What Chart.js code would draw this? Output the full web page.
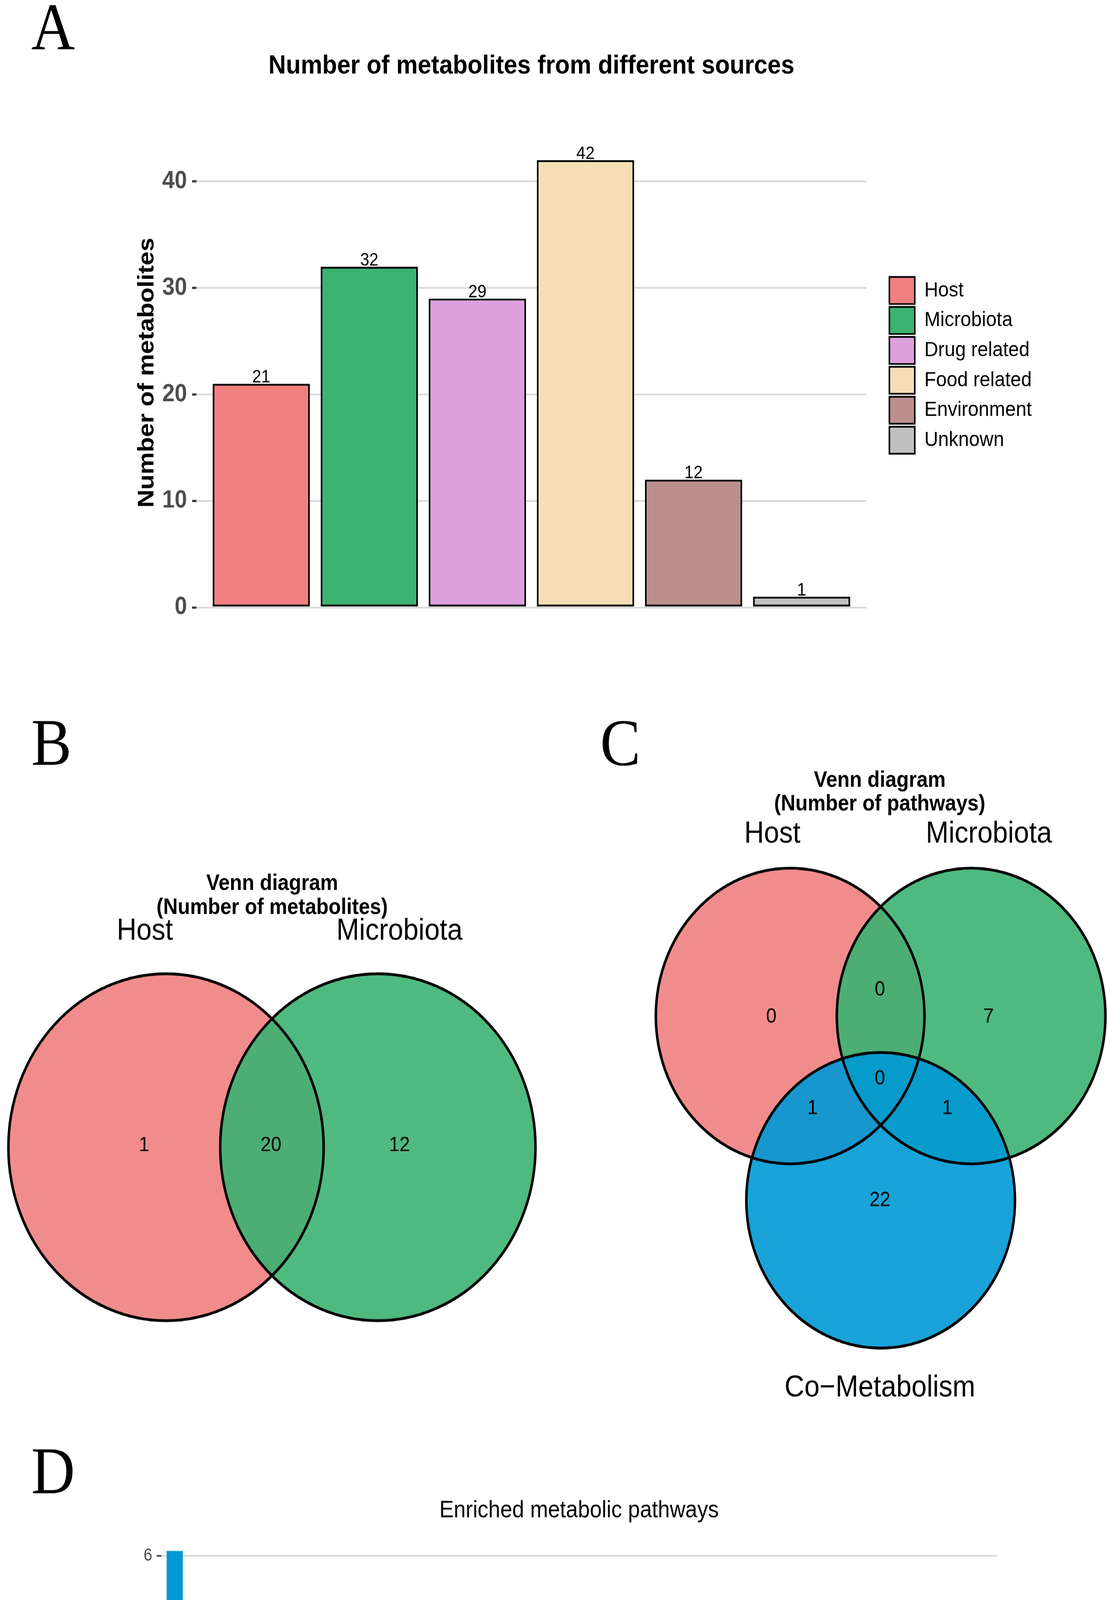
<!DOCTYPE html>
<html>
<head>
<meta charset="utf-8">
<script src="https://cdn.jsdelivr.net/npm/chart.js@4.4.1/dist/chart.umd.min.js"></script>
<style>
html, body { margin: 0; padding: 0; background: #fff; overflow: hidden; }
#page { position: relative; width: 2835px; height: 5474px; transform: scale(1, 1.1); transform-origin: 0 0; }
#page canvas { position: absolute; }
</style>
</head>
<body>
<div id="page">
<canvas id="panelA" width="2835" height="1701" style="left:0;top:0"></canvas>
<canvas id="panelB" width="1418" height="1678" style="left:0;top:1640px"></canvas>
<canvas id="panelC" width="1417" height="1678" style="left:1418px;top:1640px"></canvas>
<canvas id="panelD" width="2835" height="2156" style="left:0;top:3318px"></canvas>
</div>
<script>
// ---- data ----
const sources = ['Host', 'Microbiota', 'Drug related', 'Food related', 'Environment', 'Unknown'];
const sourceCounts = [21, 32, 29, 42, 12, 1];
const sourceColors = ['#F08080', '#3CB371', '#DDA0DD', '#F5DEB3', '#BC8F8F', '#C0C0C0'];
const countTicks = [0, 10, 20, 30, 40];

const vennBSets = ['Host', 'Microbiota'];
const vennBRegions = ['Host only', 'Host & Microbiota', 'Microbiota only'];
const vennBCounts = [1, 20, 12];

const vennCSets = ['Host', 'Microbiota', 'Co\u2212Metabolism'];
const vennCRegions = ['Host only', 'Host & Microbiota', 'Microbiota only', 'All three',
    'Host & Co-Metabolism', 'Microbiota & Co-Metabolism', 'Co-Metabolism only'];
const vennCCounts = [0, 0, 7, 0, 1, 1, 22];

const pathways = [
    'Biosynthesis of unsaturated fatty acids',
    'Linoleic acid metabolism',
    'Glycerophospholipid metabolism',
    'alpha\u2212Linolenic acid metabolism',
    'Valine, leucine and isoleucine biosynthesis',
    'Glycerolipid metabolism',
    'Arachidonic acid metabolism',
    'Biosynthesis of siderophore group nonribosomal peptides',
    'Aminoacyl\u2212tRNA biosynthesis',
    'Primary bile acid biosynthesis',
    'Naphthalene degradation',
    'Histidine metabolism',
    'Dioxin degradation',
    'Polycyclic aromatic hydrocarbon degradation',
    'Fructose and mannose metabolism',
    'Lysine degradation',
    'Prodigiosin biosynthesis',
    'Arginine and proline metabolism',
    'Ether lipid metabolism',
    'beta\u2212Alanine metabolism',
    'Pantothenate and CoA biosynthesis',
    'Valine, leucine and isoleucine degradation',
    'Galactose metabolism',
    'Glycine, serine and threonine metabolism',
    'Tryptophan metabolism',
    'Fatty acid biosynthesis',
    'Teichoic acid biosynthesis',
    'Pyrimidine metabolism',
    'Methane metabolism',
    'Porphyrin metabolism',
    'Amino sugar and nucleotide sugar metabolism'
];
const hostP = [null, null, null, null, null, null, null, null, null, 1.17,
    null, null, null, null, null, null, null, null, null, null,
    null, null, null, null, null, null, null, null, null, null, null];
const microP = [null, null, null, null, null, null, null, 1.22, null, null,
    1.08, 1.02, 1.00, 0.96, 0.86, 0.86, null, 0.80, null, null,
    null, null, null, null, null, null, null, null, null, null, null];
const coP = [6.09, 3.76, 3.10, 1.92, 1.72, 1.54, 1.30, null, 1.19, 0.52,
    null, null, null, null, 0.475, null, 0.81, null, 0.76, 0.71,
    0.68, 0.56, 0.52, 0.51, 0.50, 0.475, 0.45, 0.435, 0.35, 0.28, 0.27];
const pValueTicks = [0, 2, 4, 6];

// ---- look ----
const sans = '"Liberation Sans", Arial, sans-serif';
const serif = '"Liberation Serif", "Times New Roman", serif';
const verdana = '"DejaVu Sans", Verdana, sans-serif';
Chart.defaults.font.family = sans;
Chart.defaults.color = '#000';

const base = {responsive: false, animation: false, devicePixelRatio: 1, events: []};

let tag = function(letter, x, y) {
    return {
        id: 'tag' + letter,
        afterDraw(chart) {
            let ctx = chart.ctx;
            ctx.save();
            ctx.font = '155px ' + serif;
            ctx.fillStyle = '#000';
            ctx.textAlign = 'left';
            ctx.textBaseline = 'alphabetic';
            ctx.fillText(letter, x, y);
            ctx.restore();
        }
    };
};

// numbers on top of the bars in A
const barValues = {
    id: 'barValues',
    afterDatasetsDraw(chart) {
        let ctx = chart.ctx;
        ctx.save();
        ctx.font = '42px ' + sans;
        ctx.fillStyle = '#000';
        ctx.textAlign = 'center';
        ctx.textBaseline = 'alphabetic';
        chart.getDatasetMeta(0).data.forEach((bar, i) => {
            ctx.fillText(String(sourceCounts[i]), bar.x, bar.y - 3);
        });
        ctx.restore();
    }
};

// ---- A ----
new Chart(document.getElementById('panelA'), {
    type: 'bar',
    data: {
        datasets: [{
            data: sourceCounts.map((v, i) => ({x: i, y: v})),
            backgroundColor: sourceColors,
            borderColor: '#000',
            borderWidth: 4.5,
            borderSkipped: false,
            barPercentage: 0.9,
            categoryPercentage: 1.0
        }]
    },
    options: Object.assign({}, base, {
        layout: {padding: {left: 0, top: 0, right: 184, bottom: 0.5}},
        scales: {
            x: {
                type: 'linear', min: -0.6, max: 5.6, offset: false,
                grid: {display: false}, border: {display: false}, ticks: {display: false},
                afterBuildTicks: s => { s.ticks = sources.map((c, i) => ({value: i})); },
                afterFit: s => { s.height = 286.9; }
            },
            y: {
                min: 0, max: 44.1,
                afterBuildTicks: s => { s.ticks = countTicks.map(v => ({value: v})); },
                grid: {color: '#D9D9D9', lineWidth: 4, tickLength: 11, tickWidth: 5, tickColor: '#333333'},
                border: {display: false},
                ticks: {padding: 13, color: '#4D4D4D', font: {size: 57, weight: 'bold'}},
                title: {display: true, text: 'Number of metabolites', color: '#000',
                    font: {size: 58, weight: 'bold'}, padding: {top: 341.8, bottom: 0}},
                afterFit: s => { s.width = 503; }
            },
            y2: {
                type: 'linear', position: 'right',
                grid: {display: false}, border: {display: false}, ticks: {display: false},
                afterFit: s => { s.width = 52; }
            }
        },
        plugins: {
            title: {display: true, text: 'Number of metabolites from different sources', fullSize: false,
                color: '#000', font: {size: 62, weight: 'bold'}, padding: {top: 117.1, bottom: 129.2}},
            legend: {
                position: 'right', maxWidth: 380,
                labels: {
                    boxWidth: 65, boxHeight: 63, padding: 6.7, color: '#000', font: {size: 49},
                    generateLabels: () => sources.map((s, i) => ({
                        text: s, fillStyle: sourceColors[i], strokeStyle: '#000', lineWidth: 4, hidden: false, index: i
                    }))
                }
            },
            tooltip: {enabled: false}
        }
    }),
    plugins: [barValues, tag('A', 80, 113.5)]
});

// ---- B and C (Venn) ----
let vennText = function(title, sets, counts, lay) {
    return {
        id: 'vennText',
        afterDatasetsDraw(chart) {
            let ctx = chart.ctx;
            let xs = chart.scales.x, ys = chart.scales.y;
            let px = p => [xs.getPixelForValue(p[0]), ys.getPixelForValue(p[1])];
            ctx.save();
            ctx.fillStyle = '#000';
            ctx.textAlign = 'center';
            ctx.textBaseline = 'alphabetic';
            ctx.font = 'bold 51.5px ' + sans;
            title.forEach((line, i) => {
                let p = px([lay.titleX, lay.titleY[i]]);
                ctx.fillText(line, p[0], p[1]);
            });
            ctx.font = '70px ' + sans;
            sets.forEach((s, i) => {
                let p = px(lay.setLabels[i]);
                ctx.fillText(s, p[0], p[1]);
            });
            ctx.font = '48px ' + sans;
            ctx.textBaseline = 'middle';
            counts.forEach((c, i) => {
                let p = px(lay.counts[i]);
                ctx.fillText(String(c), p[0], p[1]);
            });
            ctx.restore();
        }
    };
};

let make_venn = function(canvas_id, w, h, sets, colors, counts, title, lay, letter) {
    let fills = sets.map((s, i) => ({
        label: s,
        data: [{x: lay.centers[i][0], y: lay.centers[i][1], r: lay.r}],
        backgroundColor: colors[i],
        borderWidth: 0,
        order: sets.length - i,
        clip: false
    }));
    let outline = {
        label: 'outline',
        data: lay.centers.map(c => ({x: c[0], y: c[1], r: lay.r})),
        backgroundColor: 'rgba(0,0,0,0)',
        borderColor: '#000',
        borderWidth: 6.5,
        order: 0,
        clip: false
    };
    new Chart(document.getElementById(canvas_id), {
        type: 'bubble',
        data: {datasets: fills.concat([outline])},
        options: Object.assign({}, base, {
            layout: {padding: 0, autoPadding: false},
            scales: {
                x: {type: 'linear', display: false, min: 0, max: w},
                y: {type: 'linear', display: false, min: 0, max: h, reverse: true}
            },
            plugins: {legend: {display: false}, tooltip: {enabled: false}}
        }),
        plugins: [vennText(title, sets, counts, lay), tag(letter.text, letter.x, letter.y)]
    });
};

make_venn('panelB', 1418, 1678, vennBSets,
    ['rgba(240,128,128,0.9)', 'rgba(60,179,113,0.9)'],
    vennBCounts, ['Venn diagram', '(Number of metabolites)'],
    {
        centers: [[425.2, 1029.9], [967.7, 1029.9]], r: 403.7,
        counts: [[369, 1025.6], [694, 1025.6], [1023, 1025.6]],
        setLabels: [[371, 546.6], [1023, 546.6]],
        titleX: 697, titleY: [430.5, 487]
    },
    {text: 'B', x: 80, y: 140.3});

make_venn('panelC', 1417, 1678, vennCSets,
    ['rgba(240,128,128,0.9)', 'rgba(60,179,113,0.9)', 'rgba(0,153,213,0.9)'],
    vennCCounts, ['Venn diagram', '(Number of pathways)'],
    {
        centers: [[605.6, 724.4], [1069, 724.4], [837.3, 1153.4]], r: 344,
        counts: [[557.4, 727.1], [835.4, 664], [1113.5, 727.1], [835.4, 871],
            [662.8, 939.7], [1008.1, 939.7], [835.4, 1153.4]],
        setLabels: [[560, 320.7], [1114.4, 320.7], [835.5, 1609.5]],
        titleX: 835, titleY: [191.3, 245.5]
    },
    {text: 'C', x: 119, y: 140});

// ---- D ----
new Chart(document.getElementById('panelD'), {
    type: 'bar',
    data: {
        labels: pathways,
        datasets: [
            {label: 'Host', data: hostP, backgroundColor: '#F08080', skipNull: true},
            {label: 'Microbiota', data: microP, backgroundColor: '#3CB371', skipNull: true},
            {label: 'Co\u2212Metabolism', data: coP, backgroundColor: '#0099D5', skipNull: true}
        ]
    },
    options: Object.assign({}, base, {
        datasets: {bar: {barPercentage: 0.6, categoryPercentage: 1.0, borderWidth: 0}},
        layout: {padding: {left: 0, right: 282, top: 0, bottom: 2}},
        scales: {
            x: {
                grid: {display: true, drawOnChartArea: false, offset: false, tickLength: 11, tickWidth: 4, tickColor: '#333333'},
                border: {display: false},
                ticks: {autoSkip: false, maxRotation: 90, minRotation: 90, padding: 9, color: '#4D4D4D', font: {size: 32}},
                afterFit: s => { s.height = 938.2; }
            },
            y: {
                min: -0.304, max: 6.39,
                afterBuildTicks: s => { s.ticks = pValueTicks.map(v => ({value: v})); },
                grid: {color: '#D9D9D9', lineWidth: 4, tickLength: 12, tickWidth: 3.5, tickColor: '#333333'},
                border: {display: false},
                ticks: {padding: 11, color: '#4D4D4D', font: {size: 40}},
                title: {display: true, text: 'log0.05 Pvalue', color: '#000',
                    font: {family: verdana, size: 42}, padding: {top: 301.3, bottom: 0}},
                afterFit: s => { s.width = 413; }
            }
        },
        plugins: {
            title: {display: true, text: 'Enriched metabolic pathways', fullSize: false, color: '#000',
                font: {size: 55, weight: 'normal'}, padding: {top: 165, bottom: 22}},
            legend: {position: 'bottom', fullSize: false,
                labels: {boxWidth: 64, boxHeight: 64, padding: 28, color: '#000', font: {size: 41}}},
            tooltip: {enabled: false}
        }
    }),
    plugins: [tag('D', 80, 156.5)]
});
</script>
</body>
</html>
